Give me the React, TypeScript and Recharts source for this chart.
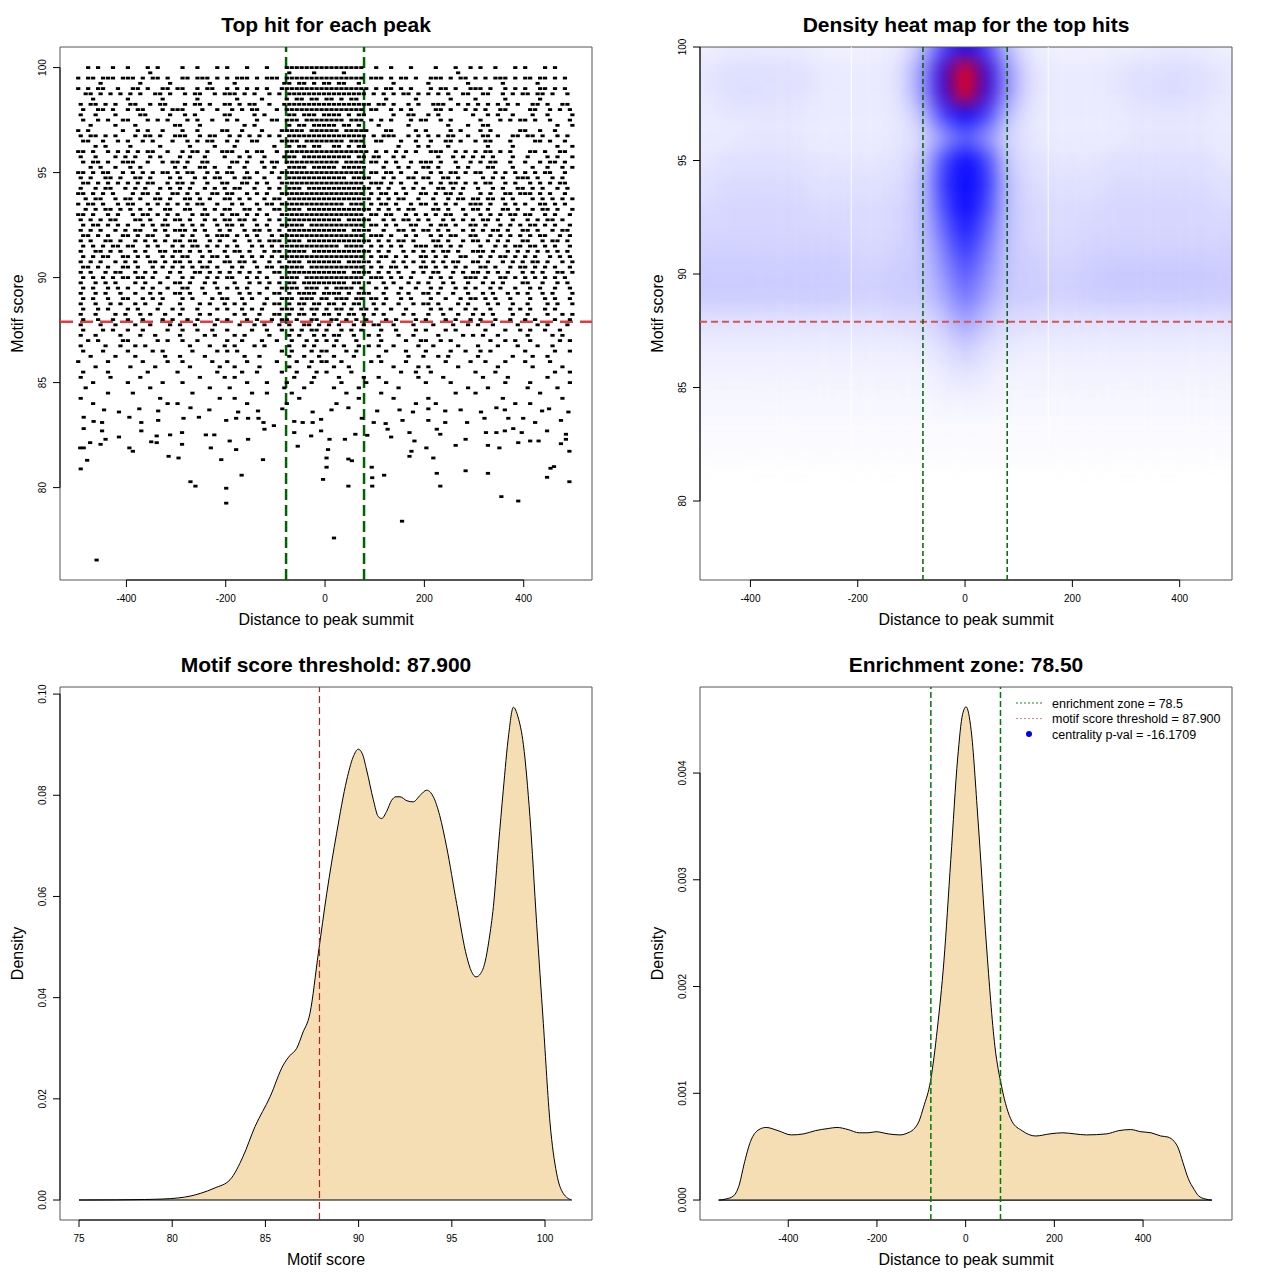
import React from 'react';
import {
  ScatterChart, Scatter, ComposedChart, AreaChart, Area,
  XAxis, YAxis, ReferenceLine, ReferenceArea,
} from 'recharts';

const FONT = '"Liberation Sans", Arial, Helvetica, sans-serif';

// shared settings
const threshold = 87.9;
const zone = 78.5;
const distTicks = [-400, -200, 0, 200, 400];
const scoreTicks = [80, 85, 90, 95, 100];

// panel 1: top hits, one row of the picture per score level ('#' = a hit in a 10 bp bin)
const hitRows: [number, string][] = [
  [100.0, '..#.#..#.. #...#.#... .#..#...#. #...#...#. ..######## ########.. #..#...#.. ..#...#..# .#..#...#. #...#.#...'],
  [99.75, '.......... ....#..... .......... .......... ..#....#.. ...#...... .......... ......#... .......... ..........'],
  [99.5, '#.##.###.# ##.#.##.#. .##.###.#. #.###.#.## #.######## ########.# ##.#.##.#. .###.#.##. #.#.###.#. ##.##.#.#.'],
  [99.25, '....#..... ..#.....#. ......#... .#........ .##.##.#.# #.##..#... ...#...... #.......#. .....#.... ..#.......'],
  [99.0, '#.#.##..#. .##.#..##. ##..#.##.. #.#.#.#.#. .######### #########. #.##.#.#.. .#.##.#..# ##.#..#.#. #..##.#.#.'],
  [98.75, '.##.#.#.#. #.#..##.#. .#.##..#.# ##.#.#..#. #.######## ########.# .#.#.##.#. #.#.#..##. .##..#.#.# #.##.#..#.'],
  [98.5, '...#...... #......#.. ....#..... ..#....#.. ..#.##.##. ##.#.##... ..#.....#. .....#.... #.....#... ...#......'],
  [98.25, '#.##.#.#.. ##..#.##.. .#.##.#..# #.#.##..#. .######### #########. ##.#..#.#. .###..#.#. #.#.#.#.#. .##.#..##.'],
  [98.0, '.#..##.#.. #.##...#.# ##...#..#. .#.#.##... #.######## ########.# #..#.#.#.. ..##.#..#. #.#..##... .##..#.#.#'],
  [97.75, '#..#...#.. ..##....#. .#.#.....# #....#.#.. ..##.###.# ###.#.##.. ...#..##.. #.#......# ..#.#..#.. .#..#....#'],
  [97.5, '.#..#.#..# #...#.#.#. ..#.#..#.. #.#...#..# #.###.#### ####.###.# .#.#...#.# #..#.#.... .#...#.#.# #.#..#...#'],
  [97.25, '..#....#.. .#.......# #...#..... ...#.#.... ..#.##.### ##.##.#... #.....#... ....#...#. .##....... ......#..#'],
  [97.0, '#.#......# ..#.#..#.. .#..#....# #..#...#.. .#####.### ###.#####. ..##....#. #....#.#.. .#.#.....# #..#..#...'],
  [96.75, '#.##.#.#.. .#.##.#..# ##..#.##.. #.#.#.#.#. #.######## ########.# .###..#.#. #.#.##..#. .##.#..##. ##.#..#.#.'],
  [96.5, '.##..#..#. #..#.#...# ..#.#.##.. #.#..##... .####.#### ####.###.. ##...#..#. .#..##.#.. #.##...#.. ..##.#..#.'],
  [96.25, '...#.#.... #.....#... ..#....#.. .#.......# ..#.##.##. .##.#.##.. ....#...#. #...#..... ..#....#.. ......#..#'],
  [96.0, '##.#..#.#. #.#.##..#. .#.##.#..# ##..#.##.. #.######## #########. #.#.#.#.#. .###..#.#. #.##.#.#.. .##.#..##.'],
  [95.75, '#..#...#.# .#..#.#... #.#..#...# ..#.#..#.. .###.##### #####.##.# #..#.#.... ..#..#.#.# .#.#...#.. #...#.#..#'],
  [95.5, '.#.##.#..# ##..#..#.# #.#..##... .##.#..#.# #.######## ###.####.# #.#.#..#.# ##.#..#..# .#.##..#.. #..#.##.#.'],
  [95.25, '..#.#..#.. #.#......# .#..##.#.. #..#...#.# ..####.### ##.#####.. .#..#.#..# #.#...#.#. ..##...#.. .#..#..#.#'],
  [95.0, '##.#.##..# .#.#.#.##. #.##..#.#. ##..#.#..# .######### ########.# #.##.#..#. .#.#.##.#. ##..#.#.#. #.#.##..#.'],
  [94.75, '#.#..##.#. .##.#...#. #..#.#.##. .#.##..#.. #.######## ####.####. .#.#..##.# #..##.#... .#.#.#..## #.#..#.#..'],
  [94.5, '.##.#.#.#. #.#.##..#. ##.#..#..# #..##.#.#. .######### ########.# ##.#.#..#. .#.#.##.#. #.##..#.#. .#.#.#.##.'],
  [94.25, '#..#.##..# .#.#..#.#. #.#..#.#.# .##..#..#. #.###.#### #########. #.#..#.#.# ..##.#.#.. #..#.#..## .#.#..#.#.'],
  [94.0, '##.#.#.#.. .#.##.#..# #.#.#..##. ##..#.#.#. .######### ########.# .##.#.#..# #.#.##.#.. .#.#..##.# ##.#.#..#.'],
  [93.75, '.#.##..#.# #.#..##.#. .##.#.#..# #.#.#..#.# #.######## #########. #.#.##..#. .#..#.##.# #.##.#.#.. .#.#.#.#.#'],
  [93.5, '#.##.#..#. ##..#.#.#. #.#.##..#. .#.#..#.## .######### ####.###.# .##.#..#.# #.#.#.#..# ##.#..#.#. #..##.#.#.'],
  [93.25, '.#.#.##.#. #.#.#..##. .##..#.#.# #..##.#..# #.###.#### #########. #.#.#.##.. .##.#..#.# #.#..##.#. .#.##.#..#'],
  [93.0, '##.#..#.#. .#.##.#.#. #..#.##..# .##.#.#.#. .######### ########.# #.##..#.#. #.#.##..#. .#.#.#.##. ##..#.#..#'],
  [92.75, '#.#.#.##.. .##.#..#.# #.#..#.#.# #.##.#..#. #.######## ###.#####. .#.#.##.#. #..#.#.#.# .##.#..#.. #.#.##.#..'],
  [92.5, '.#.##.#.#. #..#.#.##. .#.#.#..#. ##.#..#.#. .#####.### ########.# #.#.#..##. .#.##.#..# #.#..#.#.# .##.#.#..#'],
  [92.25, '#.#.#..#.# .##..#.#.# ##.#.#..#. #..#.##.#. #.######## ####.####. .#..##.#.# #.#.#..#.# .#.##.#..# #.#..#.##.'],
  [92.0, '.##.#.#..# #.#.##..#. .#.#..#.## #.#.#.#..# .######### ########.# ##.#..#.#. .#.#.##..# #..#.#.#.# .#.##..#.#'],
  [91.75, '#.#..##.#. .#.#.#.#.# #.##..#.#. .#..#.#.## #.###.#### #########. #.#.##.#.. .##.#..#.# #.#.#.#..# #..#.##.#.'],
  [91.5, '.#.#.#.##. ##..#.#..# .#.##.#.#. #.#..#.#.# .######### ###.####.# .#.#.#..## #.##.#.#.. .#..#.#.## .##.#.#..#'],
  [91.25, '#..##.#.#. .#.#..##.# #.#.#.#..# .##.#..#.# #.####.### #########. #.#..#.#.# .#.##.#..# ##.#..#.#. #.#.#.#.#.'],
  [91.0, '.#.#.##..# #.#.#..#.# .##..#.##. #..#.#.#.# .######### ########.# .##.#.#..# #.#.#..##. .#.#.##.#. #.#..#.#.#'],
  [90.75, '#.#.#..#.# .#..##.#.# #.#.#.#..# #.##.#..#. #.###.#### ###.#####. #..#.#.#.# .#.#.##..# #.#..#.#.# .##.#..#.#'],
  [90.5, '.##.#.#..# #.#..#.#.# .#.#.##.#. .#.#..#.## .#####.### ########.# .#.##.#..# #.#.#.#.#. .##.#..#.# #.#.#.#..#'],
  [90.25, '#.#..#.##. .#.#.#..#. #..##.#.#. #.#.#.#..# #.######## ####.####. #.#.#..#.# .##..#.#.# #.#.#.#..# .#.#..##.#'],
  [90.0, '.#.#.#.#.# #.##.#..#. .#.#..#.#. ##..#.#.#. .####.#### ########.# ##.#.#.#.. .#.#.#..## #.#..##.#. #.#.#.#.#.'],
  [89.75, '#..#.#.#.. .#.#..#..# #.#..#.#.. .#..#.#.#. #.##.##### ####.##.#. .#.#..#.#. #..#.#..#. .#.#.#...# #..#..#.#.'],
  [89.5, '.#.#..#.#. #..#.#..#. .##..#..#. #.#.#...#. .####.###. #.####.#.. #.#..#..#. .#.#..#.#. #..#.#..#. .#.#..#..#'],
  [89.25, '#..#.#..#. .#..#.#..# #.#..#..#. ..#.#.#..# #.#.####.# ###.#.###. .#..#.#..# #.#..#..#. .#.#..#.#. #..#.#...#'],
  [89.0, '.#.#..#..# #..#.#.#.. .#.#...#.# #..#.#..#. .###.###.# #.###.##.# #.#..#.#.. .#..#..#.# #.#.#..#.. .#..#.#..#'],
  [88.75, '#..#..#.#. .#.#..#... #...#.#..# .#.#...#.# #.#.##.##. ##.#.##..# .#..#..#.# #.#...#.#. ..#.#..#.. #...#.#..#'],
  [88.5, '.#..#.#... #.#...#..# .#..#...#. #..#.#.#.. .###.#.##. #.##.#.##. #..#..#... .#.#.#..#. #..#...#.# .#..#.#...'],
  [88.25, '#..#...#.# ..#.#..#.. #...#.#... .#.#..#..# #.#.##.#.# #.#.##.#.# .#...#.#.. #..#..#..# .#.#...#.. #...#..#.#'],
  [88.0, '.#..#..#.. #..#...#.# ..#.#...#. #...#.#..# .##.#..##. .##.#.#.#. ..#.#...#. #...#.#..# .#..#..#.. #.#...#..#'],
  [87.75, '#...#..#.. .#..#...#. #..#...#.. ..#..#.#.. #.#..##.#. #.#..#.#.# #..#...#.. .#...#..#. #..#....#. ..#.#...#.'],
  [87.5, '.#...#.#.. #..#....#. .#..#..#.. #....#..#. .#.#.#.##. #..#.#.#.. .#..#...#. #...#.#... ..#...#..# .#..#..#..'],
  [87.25, '#..#....#. ..#..#.... #....#.#.. .#.#....#. ..#.#..#.# .##..#..#. #...#..#.. ..#....#.# .#..#..... #....#.#..'],
  [87.0, '..#.#....# #.....#.#. .#..#..... #..#...#.. #..#..#.#. #.#...#... .#....#..# #..#.#.... ...#..#.#. .#.....#.#'],
  [86.75, '#....#..#. .#.#...... ..#...#..# .#...#.#.. ..#..#.#.. .#.#..#.#. #..#....#. .#....#... #...#...#. ..#..#....'],
  [86.5, '.#...#.... #....#.#.. ...#....#. #.#....... .#.#...#.# #...#.#... ..#...#... #....#..#. .#.#...... #.....#..#'],
  [86.25, '..#....#.. .#.....#.. #....#.... ...#..#... ..#..#..#. .#...#.... #.....#..# ..#.#..... #......#.. .#..#.....'],
  [86.0, '#.....#... ...#....#. .#.....#.. #...#..... #...#..#.# #..#.....# .#....#... ....#....# ..#...#... #....#....'],
  [85.75, '...#...... #....#.... ..#.....#. .#....#... ..#...#... .#..#..... ...#....#. #.....#... ....#..... .#.....#..'],
  [85.5, '.#....#... ....#..... #.......#. ...#..#... .#..#...#. #....#.... .....#..#. .#........ #...#..... ......#..#'],
  [85.25, '#.....#... ..#....... ....#....# .#........ ...#...#.. ..#....#.. #.......#. ...#...... .#....#... ....#.....'],
  [85.0, '...#...... #......#.. .#........ ....#...#. ..#....#.. ...#....#. ..#....... #....#.... ......#... .#.......#'],
  [84.75, '.#........ ....#..... ......#... #......... .#...#.... .#....#... ....#..... ........#. ..#....... #.....#...'],
  [84.5, '......#... .#........ ...#...... .....#..#. ...#...... ....#..... .#........ ......#... #......... ...#......'],
  [84.25, '#......... ......#... ........#. .#........ ....#..... ......#... ...#...... #......... .....#.... .......#..'],
  [84.0, '...#...... ........#. #......... ....#..... ..#....... ..#....... ........#. ..#....... ........#. .#........'],
];

// panel 1: the sparse tail below score 84, [distance, score]
const sparseHits: [number, number][] = [
  [-445, 83.7], [-415, 83.6], [-374, 83.75], [-336, 83.65], [-271, 83.8], [-233, 83.7], [-175, 83.6], [-135, 83.65],
  [-86, 83.75], [-25, 83.6], [13, 83.7], [47, 83.8], [105, 83.65], [150, 83.7], [177, 83.6], [208, 83.75],
  [242, 83.65], [273, 83.7], [314, 83.6], [345, 83.8], [362, 83.7], [437, 83.65], [451, 83.75], [490, 83.6],
  [-486, 83.35], [-466, 83.15], [-449, 83.1], [-394, 83.35], [-370, 83.1], [-336, 83.2], [-285, 83.3], [-254, 83.35],
  [-199, 83.2], [-179, 83.3], [-155, 83.3], [-134, 83.3], [-124, 83.1], [-103, 82.95], [-62, 83.15], [-45, 83.1],
  [-25, 83.1], [-8, 83.25], [74, 83.3], [98, 83.1], [122, 83.05], [156, 83.2], [208, 83.2], [242, 83.1],
  [286, 83.1], [321, 83.3], [369, 83.3], [399, 83.3], [423, 83.1], [475, 83.2],
  [-486, 82.81], [-449, 82.7], [-442, 82.3], [-415, 82.41], [-370, 82.7], [-339, 82.46], [-312, 82.51], [-288, 82.62],
  [-240, 82.51], [-223, 82.51], [-155, 82.3], [-122, 82.78], [-62, 82.62], [-28, 82.46], [-8, 82.7], [9, 82.3],
  [40, 82.3], [61, 82.54], [85, 82.49], [126, 82.78], [133, 82.41], [170, 82.62], [180, 82.22], [225, 82.78],
  [232, 82.54], [283, 82.3], [324, 82.62], [345, 82.62], [362, 82.7], [379, 82.81], [396, 82.62], [413, 82.22],
  [447, 82.7], [485, 82.54], [485, 82.3],
  [-493, 81.89], [-486, 81.89], [-473, 82.14], [-452, 82.06], [-394, 81.89], [-387, 81.73], [-350, 82.18], [-339, 82.14],
  [-288, 82.06], [-230, 81.89], [-192, 82.22], [-179, 81.81], [-55, 81.97], [6, 81.81], [174, 81.73], [204, 81.89],
  [263, 82.01], [328, 82.01], [351, 81.89], [389, 82.14], [430, 82.22], [475, 82.09], [492, 81.73],
  [-479, 81.3], [-315, 81.49], [-295, 81.41], [-209, 81.33], [-125, 81.33], [3, 81.41], [47, 81.36], [54, 81.28],
  [94, 80.97], [170, 81.49], [218, 81.41], [-492, 80.89], [3, 80.97], [225, 80.68], [283, 80.8], [328, 80.68],
  [454, 80.92], [461, 81.0], [119, 80.59], [95, 80.47], [-168, 80.59], [-271, 80.28], [-261, 80.07], [-199, 79.97],
  [-4, 80.39], [47, 80.07], [95, 80.07], [232, 80.07], [447, 80.49], [492, 80.28], [355, 79.57], [389, 79.36],
  [-199, 79.26], [155, 78.4], [18, 77.6], [-460, 76.55],
];

// panel 2: density heat map, values 0..100 (50 = pure blue, 100 = red) per 40 bp column
const heatX = [-520, -480, -440, -400, -360, -320, -280, -240, -200, -160, -120, -80, -40, 0, 40, 80, 120, 160, 200, 240, 280, 320, 360, 400, 440, 480, 520];
const heatRows: [number, number[]][] = [
  [100, [3, 3, 4, 4, 4, 4, 3, 3, 3, 3, 4, 12, 35, 50, 36, 12, 4, 3, 3, 3, 3, 3, 4, 4, 4, 3, 3]],
  [99, [4, 5, 6, 6, 6, 6, 5, 4, 4, 4, 6, 20, 58, 100, 58, 20, 6, 4, 4, 4, 5, 6, 6, 7, 6, 5, 4]],
  [98, [4, 5, 6, 7, 6, 6, 5, 4, 4, 4, 6, 20, 58, 100, 58, 20, 6, 4, 4, 4, 5, 6, 7, 7, 6, 5, 4]],
  [97, [4, 4, 5, 5, 5, 5, 4, 4, 4, 4, 5, 12, 38, 50, 38, 12, 5, 4, 4, 4, 4, 5, 5, 5, 5, 4, 4]],
  [96, [4, 4, 4, 5, 5, 5, 4, 4, 4, 4, 5, 8, 20, 32, 21, 8, 5, 4, 4, 4, 4, 5, 5, 5, 5, 4, 4]],
  [95, [5, 5, 6, 6, 6, 6, 5, 5, 5, 5, 6, 10, 36, 50, 37, 10, 6, 5, 5, 5, 6, 6, 6, 6, 6, 5, 5]],
  [94, [6, 6, 7, 7, 7, 7, 6, 6, 6, 6, 7, 12, 40, 50, 41, 12, 7, 6, 6, 6, 7, 7, 7, 7, 7, 6, 6]],
  [93, [7, 7, 8, 8, 8, 8, 7, 7, 7, 7, 8, 12, 36, 50, 37, 12, 8, 7, 7, 7, 8, 8, 8, 8, 8, 7, 7]],
  [92, [8, 8, 8, 8, 8, 8, 8, 8, 7, 7, 8, 12, 30, 46, 31, 12, 8, 7, 7, 8, 8, 8, 8, 8, 8, 8, 8]],
  [91, [9, 9, 9, 9, 9, 9, 9, 9, 8, 8, 9, 11, 25, 40, 26, 11, 9, 8, 8, 9, 9, 9, 9, 9, 9, 9, 9]],
  [90, [10, 10, 10, 10, 10, 10, 10, 10, 9, 9, 10, 11, 21, 34, 22, 11, 10, 9, 9, 10, 11, 11, 11, 11, 11, 10, 10]],
  [89, [10, 10, 10, 10, 10, 10, 10, 10, 9, 9, 10, 10, 17, 28, 18, 10, 10, 9, 9, 10, 10, 10, 10, 10, 10, 10, 10]],
  [88, [6, 6, 6, 6, 6, 6, 6, 6, 6, 6, 7, 7, 11, 20, 12, 7, 7, 6, 6, 6, 6, 6, 6, 6, 6, 6, 6]],
  [87, [4, 4, 4, 4, 4, 4, 4, 4, 4, 4, 4, 5, 7, 12, 7, 5, 4, 4, 4, 4, 4, 4, 4, 4, 4, 4, 4]],
  [86, [3, 3, 3, 3, 3, 3, 3, 3, 3, 3, 3, 3, 5, 7, 5, 3, 3, 3, 3, 3, 3, 3, 3, 3, 3, 3, 3]],
  [85, [2, 2, 2, 2, 2, 2, 2, 2, 2, 2, 2, 2, 3, 4, 3, 2, 2, 2, 2, 2, 2, 2, 2, 2, 2, 2, 2]],
  [84, [1.5, 1.5, 1.5, 1.5, 1.5, 1.5, 1.5, 1.5, 1.5, 1.5, 1.5, 1.5, 2, 2, 2, 1.5, 1.5, 1.5, 1.5, 1.5, 1.5, 1.5, 1.5, 1.5, 1.5, 1.5, 1.5]],
  [83, [1, 1, 1, 1, 1, 1, 1, 1, 1, 1, 1, 1, 1, 1, 1, 1, 1, 1, 1, 1, 1, 1, 1, 1, 1, 1, 1]],
  [82, [0.5, 0.5, 0.5, 0.5, 0.5, 0.5, 0.5, 0.5, 0.5, 0.5, 0.5, 0.5, 0.5, 0.5, 0.5, 0.5, 0.5, 0.5, 0.5, 0.5, 0.5, 0.5, 0.5, 0.5, 0.5, 0.5, 0.5]],
];
const heatSeams = [-212, 155];

// panel 3: density of motif scores
const scoreGrid = [75, 77, 78.5, 79.5, 80.3, 81, 81.5, 82.3, 83.1, 83.8, 84.44, 85.25, 85.96, 86.3, 86.68, 87, 87.39, 87.84, 88.29, 88.82, 89.36, 89.7, 89.98, 90.2, 90.43, 90.79, 91.05, 91.24, 91.5, 91.77, 92, 92.22, 92.6, 92.93, 93.3, 93.65, 93.85, 94.01, 94.35, 94.72, 95.26, 95.8, 96.05, 96.3, 96.55, 96.78, 97, 97.23, 97.5, 97.76, 98.05, 98.3, 98.55, 98.84, 99.19, 99.55, 99.91, 100.27, 100.62, 100.98, 101.43];
const scoreDens = [0, 0.00003, 0.0001, 0.0002, 0.0004, 0.0008, 0.0013, 0.0024, 0.004, 0.0086, 0.0145, 0.0204, 0.0267, 0.0285, 0.03, 0.033, 0.0369, 0.0488, 0.0606, 0.0725, 0.083, 0.0875, 0.0891, 0.0882, 0.085, 0.0791, 0.0758, 0.0754, 0.0768, 0.079, 0.0797, 0.0797, 0.0789, 0.0787, 0.08, 0.081, 0.0806, 0.0797, 0.076, 0.0698, 0.0586, 0.0481, 0.0452, 0.0441, 0.0448, 0.047, 0.0515, 0.058, 0.07, 0.081, 0.092, 0.0974, 0.0955, 0.09, 0.0758, 0.0547, 0.0349, 0.0152, 0.0053, 0.0013, 0];

// panel 4: density of distances to the summit
const distGrid = [-557, -540, -523, -510, -500, -485, -466, -450, -423, -393, -365, -339, -310, -290, -265, -240, -220, -202, -175, -148, -130, -118, -105, -95, -79, -64, -49, -33.5, -18, -7, 1, 12.4, 27.7, 46.8, 65.9, 81.2, 104, 127, 157.6, 190, 219, 245, 272, 318, 345, 372, 395, 418, 440, 456, 470, 479, 490, 502, 515, 525, 540, 555];
const distDens = [0, 0.00001, 0.00004, 0.00015, 0.00033, 0.00055, 0.00066, 0.00068, 0.00065, 0.00061, 0.00062, 0.00065, 0.00067, 0.00068, 0.00066, 0.00063, 0.00063, 0.00064, 0.00062, 0.00061, 0.00063, 0.00066, 0.00074, 0.00087, 0.00112, 0.0016, 0.00224, 0.00319, 0.00414, 0.00455, 0.00462, 0.0044, 0.00357, 0.00239, 0.00144, 0.00106, 0.00074, 0.00065, 0.0006, 0.00062, 0.00063, 0.00062, 0.00061, 0.00062, 0.00065, 0.00066, 0.00064, 0.00063, 0.0006, 0.00059, 0.00055, 0.00049, 0.00035, 0.0002, 0.0001, 0.00004, 0.00001, 0];

const legendItems = [
  { label: 'enrichment zone = 78.5', kind: 'line', color: '#1f8a1f' },
  { label: 'motif score threshold = 87.900', kind: 'line', color: '#f08080' },
  { label: 'centrality p-val = -16.1709', kind: 'dot', color: '#0000ff' },
];

const titles = [
  { text: 'Top hit for each peak', x: 326, y: 32 },
  { text: 'Density heat map for the top hits', x: 966, y: 32 },
  { text: 'Motif score threshold: 87.900', x: 326, y: 672 },
  { text: 'Enrichment zone: 78.50', x: 966, y: 672 },
];
const xLabels = [
  { text: 'Distance to peak summit', x: 326, y: 625 },
  { text: 'Distance to peak summit', x: 966, y: 625 },
  { text: 'Motif score', x: 326, y: 1265 },
  { text: 'Distance to peak summit', x: 966, y: 1265 },
];
const yLabels = [
  { text: 'Motif score', x: 22.5, y: 313.5 },
  { text: 'Motif score', x: 662.5, y: 313.5 },
  { text: 'Density', x: 22.5, y: 953.5 },
  { text: 'Density', x: 662.5, y: 953.5 },
];

// odd picture rows sit half a bin to the right, as in the original scan
const hitPoints = [
  ...hitRows.flatMap(([score, row], r) =>
    row.split(' ').flatMap((grp, g) =>
      grp.split('').flatMap((c, j) => (c === '#' ? [{ x: -497 + (r % 2) * 5 + (g * 10 + j) * 10, y: score }] : [])),
    ),
  ),
  ...sparseHits.map(([x, y]) => ({ x, y })),
];

const heatColor = (v: number) => {
  if (v <= 50) {
    const c = Math.round(255 * (1 - v / 50));
    return `rgb(${c},${c},255)`;
  }
  const s = Math.min(1, (v - 50) / 50);
  return `rgb(${Math.round(255 * s)},0,${Math.round(255 * (1 - s))})`;
};

const heatCells = heatRows.flatMap(([score, vals], r) =>
  vals.map((v, i) => ({
    key: `${score}-${i}`,
    x1: heatX[i] - 20 - (i === 0 ? 80 : 0),
    x2: heatX[i] + 20 + (i === heatX.length - 1 ? 80 : 0),
    y1: score - 0.5,
    y2: score + 0.5 + (r === 0 ? 1.5 : 0),
    color: heatColor(v),
  })),
);

const scoreDensity = scoreGrid.map((score, i) => ({ score, density: scoreDens[i] }));
const distDensity = distGrid.map((dist, i) => ({ dist, density: distDens[i] }));

const hitXDom = [-533.7, 537.5];
const hitYDom = [75.6, 100.98];
const heatXDom = [-494, 497.5];
const heatYDom = [76.52, 100];
const scoreXDom = [73.98, 102.52];
const scoreYDom = [-0.00395, 0.1014];
const distXDom = [-599, 600.5];
const distYDom = [-0.000187, 0.004806];

const M = { top: 47, right: 48, bottom: 0, left: 0 };

const xTick = (fmt?: (v: number) => string) => (p: any) => (
  <text x={p.x} y={p.y + 12.5} textAnchor="middle" fontSize={10} fontFamily={FONT} fill="#000">
    {fmt ? fmt(p.payload.value) : p.payload.value}
  </text>
);

const yTick = (fmt?: (v: number) => string) => (p: any) => (
  <text
    x={p.x - 4.7}
    y={p.y}
    transform={`rotate(-90 ${p.x - 4.7} ${p.y})`}
    textAnchor="middle"
    fontSize={10}
    fontFamily={FONT}
    fill="#000"
  >
    {fmt ? fmt(p.payload.value) : p.payload.value}
  </text>
);

const axes = (xd: number[], yd: number[], xt: number[], yt: number[], xKey: string, yKey: string, fx?: (v: number) => string, fy?: (v: number) => string) => [
  <XAxis key="x" type="number" dataKey={xKey} domain={xd} ticks={xt} interval={0} allowDataOverflow height={60}
    axisLine={false} tickLine={{ stroke: '#000' }} tickSize={7} tick={xTick(fx)} />,
  <YAxis key="y" type="number" dataKey={yKey} domain={yd} ticks={yt} interval={0} allowDataOverflow width={60}
    axisLine={false} tickLine={{ stroke: '#000' }} tickSize={7} tick={yTick(fy)} />,
  <ReferenceArea key="box" x1={xd[0]} x2={xd[1]} y1={yd[0]} y2={yd[1]} fill="none" stroke="#555" strokeWidth={1} ifOverflow="visible" />,
  <ReferenceLine key="ax" segment={[{ x: xt[0], y: yd[0] }, { x: xt[xt.length - 1], y: yd[0] }]} stroke="#000" ifOverflow="visible" />,
  <ReferenceLine key="ay" segment={[{ x: xd[0], y: yt[0] }, { x: xd[0], y: yt[yt.length - 1] }]} stroke="#000" ifOverflow="visible" />,
];

const hitDot = (p: any) => <rect x={p.cx - 2.1} y={p.cy - 1.4} width={4.2} height={2.8} fill="#000" />;

export default function App() {
  return (
    <div style={{ position: 'relative', width: 1280, height: 1280, background: '#fff', fontFamily: FONT }}>
      <style>{'body{margin:0}'}</style>

      {/* top hit scatter */}
      <div style={{ position: 'absolute', left: 0, top: 0 }}>
        <ScatterChart width={640} height={640} margin={M}>
          {axes(hitXDom, hitYDom, distTicks, scoreTicks, 'x', 'y')}
          <Scatter data={hitPoints} shape={hitDot} isAnimationActive={false} />
          <ReferenceLine y={threshold} stroke="#e8383d" strokeWidth={2.5} strokeDasharray="13 7" />
          <ReferenceLine x={-zone} stroke="#006400" strokeWidth={2.5} strokeDasharray="11 5" />
          <ReferenceLine x={zone} stroke="#006400" strokeWidth={2.5} strokeDasharray="11 5" />
        </ScatterChart>
      </div>

      {/* heat map, blurred and clipped to the plot region */}
      <div style={{ position: 'absolute', left: 700, top: 47, width: 532, height: 533, overflow: 'hidden' }}>
        <div style={{ position: 'absolute', left: -60, top: -47, width: 640, height: 640, filter: 'blur(10px)' }}>
          <ComposedChart width={640} height={640} margin={M}>
            <XAxis type="number" dataKey="x" domain={heatXDom} allowDataOverflow height={60} tick={false} axisLine={false} tickLine={false} />
            <YAxis type="number" dataKey="y" domain={heatYDom} allowDataOverflow width={60} tick={false} axisLine={false} tickLine={false} />
            {heatCells.map((c) => (
              <ReferenceArea key={c.key} x1={c.x1} x2={c.x2} y1={c.y1} y2={c.y2} fill={c.color} fillOpacity={1} strokeWidth={0} ifOverflow="visible" />
            ))}
          </ComposedChart>
        </div>
      </div>
      <div style={{ position: 'absolute', left: 640, top: 0 }}>
        <ComposedChart width={640} height={640} margin={M}>
          {axes(heatXDom, heatYDom, distTicks, scoreTicks, 'x', 'y')}
          {heatSeams.map((s) => (
            <ReferenceLine key={s} segment={[{ x: s, y: 100 }, { x: s, y: 82.4 }]} stroke="#fff" strokeWidth={1} strokeOpacity={0.85} />
          ))}
          <ReferenceLine y={threshold} stroke="#d9534f" strokeWidth={2} strokeDasharray="7 4" />
          <ReferenceLine x={-zone} stroke="#006400" strokeWidth={1.5} strokeDasharray="5 3" />
          <ReferenceLine x={zone} stroke="#006400" strokeWidth={1.5} strokeDasharray="5 3" />
        </ComposedChart>
      </div>

      {/* motif score density */}
      <div style={{ position: 'absolute', left: 0, top: 640 }}>
        <AreaChart width={640} height={640} data={scoreDensity} margin={M}>
          {axes(scoreXDom, scoreYDom, [75, 80, 85, 90, 95, 100], [0, 0.02, 0.04, 0.06, 0.08, 0.1], 'score', 'density', undefined, (v) => v.toFixed(2))}
          <Area type="monotone" dataKey="density" stroke="#000" strokeWidth={1} fill="#f5deb3" fillOpacity={1} baseValue={0} isAnimationActive={false} />
          <ReferenceLine segment={[{ x: scoreGrid[0], y: 0 }, { x: scoreGrid[scoreGrid.length - 1], y: 0 }]} stroke="#000" strokeWidth={1.2} />
          <ReferenceLine x={threshold} stroke="#b22222" strokeWidth={1.2} strokeDasharray="7 4" />
        </AreaChart>
      </div>

      {/* distance density */}
      <div style={{ position: 'absolute', left: 640, top: 640 }}>
        <AreaChart width={640} height={640} data={distDensity} margin={M}>
          {axes(distXDom, distYDom, distTicks, [0, 0.001, 0.002, 0.003, 0.004], 'dist', 'density', undefined, (v) => v.toFixed(3))}
          <Area type="monotone" dataKey="density" stroke="#000" strokeWidth={1} fill="#f5deb3" fillOpacity={1} baseValue={0} isAnimationActive={false} />
          <ReferenceLine segment={[{ x: distGrid[0], y: 0 }, { x: distGrid[distGrid.length - 1], y: 0 }]} stroke="#000" strokeWidth={1.2} />
          <ReferenceLine x={-zone} stroke="#007a00" strokeWidth={1.5} strokeDasharray="6 3" />
          <ReferenceLine x={zone} stroke="#007a00" strokeWidth={1.5} strokeDasharray="6 3" />
        </AreaChart>
      </div>

      {/* titles, axis titles and the legend */}
      <svg width={1280} height={1280} style={{ position: 'absolute', left: 0, top: 0, pointerEvents: 'none' }}>
        {titles.map((t) => (
          <text key={t.text} x={t.x} y={t.y} textAnchor="middle" fontSize={21} fontWeight="bold" fontFamily={FONT} fill="#000">{t.text}</text>
        ))}
        {xLabels.map((t, i) => (
          <text key={i} x={t.x} y={t.y} textAnchor="middle" fontSize={16} fontFamily={FONT} fill="#000">{t.text}</text>
        ))}
        {yLabels.map((t, i) => (
          <text key={i} x={t.x} y={t.y} transform={`rotate(-90 ${t.x} ${t.y})`} textAnchor="middle" fontSize={16} fontFamily={FONT} fill="#000">{t.text}</text>
        ))}
        {legendItems.map((it, i) => {
          const cy = 703 + i * 15.5;
          return (
            <g key={it.label}>
              {it.kind === 'line' ? (
                <line x1={1016} x2={1042} y1={cy} y2={cy} stroke={it.color} strokeWidth={1.2} strokeDasharray="2 2" />
              ) : (
                <circle cx={1029} cy={cy} r={3} fill={it.color} />
              )}
              <text x={1052} y={cy + 4.5} fontSize={12.5} fontFamily={FONT} fill="#000">{it.label}</text>
            </g>
          );
        })}
      </svg>
    </div>
  );
}
